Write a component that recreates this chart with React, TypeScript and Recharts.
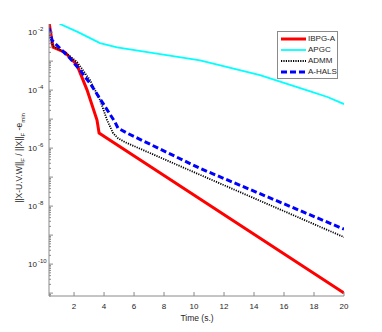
import { Line, LineChart, XAxis, YAxis } from 'recharts';

// time (s.) / relative error
const ibpgX = [0.33, 0.6, 1.4, 2.2, 2.87, 3.53, 3.67, 4.07, 20];
const ibpgY = [2.2e-2, 3.0e-3, 2.0e-3, 7.3e-4, 1.0e-4, 9.3e-6, 3.3e-6, 2.4e-6, 1.0e-11];

const apgcX = [0.33, 1.07, 2.27, 3.07, 3.73, 4.87, 10.4, 14.4, 17.7, 18.9, 20];
const apgcY = [5e-2, 1.9e-2, 1.0e-2, 6.2e-3, 4.2e-3, 3.0e-3, 1.07e-3, 3.3e-4, 9.3e-5, 5.8e-5, 3.3e-5];

const admmX = [0.33, 0.6, 1.4, 2.2, 3.07, 3.73, 4.2, 4.6, 4.93, 5.4, 10.4, 20];
const admmY = [8e-3, 3.3e-3, 2.0e-3, 9.3e-4, 2.2e-4, 4.6e-5, 9.3e-6, 3.3e-6, 2.2e-6, 1.6e-6, 1.2e-7, 8.5e-10];

const halsX = [0.33, 0.53, 1.73, 2.4, 3.07, 3.93, 4.73, 4.93, 5.53, 10.4, 20];
const halsY = [1.4e-2, 5.2e-3, 1.26e-3, 4.9e-4, 1.7e-4, 3.5e-5, 7.9e-6, 4.9e-6, 3.3e-6, 2.0e-7, 1.6e-9];

const xTicks = [2, 4, 6, 8, 10, 12, 14, 16, 18, 20];
const yMajorExp = [-2, -4, -6, -8, -10];

const X_DOMAIN: [number, number] = [0.33, 20];
const Y_DOMAIN: [number, number] = [Math.pow(10, -11.1), Math.pow(10, -1.72)];

const PL = 49;
const PR = 344;
const PT = 24;
const PB = 296;
const AX = '#8a8a8a';
const TXT = '#262626';
const FONT = '"Liberation Sans", Arial, sans-serif';

const zip = (xs: number[], ys: number[]) => xs.map((x, i) => ({ x, y: ys[i] }));

const series = [
  { name: 'IBPG-A', data: zip(ibpgX, ibpgY), color: '#ff0000', width: 3, dash: undefined },
  { name: 'APGC', data: zip(apgcX, apgcY), color: '#00ffff', width: 1.8, dash: undefined },
  { name: 'ADMM', data: zip(admmX, admmY), color: '#000000', width: 1.8, dash: '1.2 1.2' },
  { name: 'A-HALS', data: zip(halsX, halsY), color: '#0000ff', width: 3, dash: '6 3' },
];

// minor ticks like a log axis: k * 10^d
const yTicks: number[] = [];
for (let d = -12; d <= -1; d++) {
  for (let k = 1; k <= 9; k++) {
    const v = k * Math.pow(10, d);
    if (v >= Y_DOMAIN[0] && v <= Y_DOMAIN[1]) yTicks.push(v);
  }
}

const isDecade = (v: number) => {
  const e = Math.round(Math.log10(v));
  return Math.abs(v / Math.pow(10, e) - 1) < 1e-6;
};
const majorExp = (v: number) => {
  const e = Math.round(Math.log10(v));
  return isDecade(v) && yMajorExp.includes(e) ? e : null;
};

function LeftTick({ y, payload }: any) {
  const v = payload.value as number;
  const e = majorExp(v);
  const len = isDecade(v) ? 4 : 2;
  return (
    <g>
      <line x1={PL} x2={PL + len} y1={y} y2={y} stroke={AX} />
      {e !== null && (
        <text x={PL - 12} y={y + 3} textAnchor="end" fontSize={8} fill={TXT} fontFamily={FONT}>
          10
          <tspan x={PL - 11} dy={-4} fontSize={6} textAnchor="start">
            {e}
          </tspan>
        </text>
      )}
    </g>
  );
}

function RightTick({ y, payload }: any) {
  const len = isDecade(payload.value) ? 4 : 2;
  return <line x1={PR} x2={PR - len} y1={y} y2={y} stroke={AX} />;
}

function BottomTick({ x, payload }: any) {
  return (
    <g>
      <line x1={x} x2={x} y1={PB} y2={PB - 4} stroke={AX} />
      <text x={x} y={PB + 13} textAnchor="middle" fontSize={8} fill={TXT} fontFamily={FONT}>
        {payload.value}
      </text>
    </g>
  );
}

function TopTick({ x }: any) {
  return <line x1={x} x2={x} y1={PT} y2={PT + 4} stroke={AX} />;
}

function LegendBox() {
  return (
    <div
      style={{
        position: 'absolute',
        left: 277,
        top: 31,
        boxSizing: 'border-box',
        border: `1px solid ${AX}`,
        background: '#fff',
        width: 61,
        padding: '2px 1px 1px 2px',
        fontFamily: FONT,
        fontSize: 8,
        lineHeight: '8px',
        color: TXT,
        whiteSpace: 'nowrap',
      }}
    >
      {series.map((s) => (
        <div key={s.name} style={{ display: 'flex', alignItems: 'center', height: 10.8 }}>
          <svg width={27} height={6} style={{ marginRight: 1, flexShrink: 0 }}>
            <line x1={1} x2={26} y1={3} y2={3} stroke={s.color} strokeWidth={s.width} strokeDasharray={s.dash} />
          </svg>
          <span>{s.name}</span>
        </div>
      ))}
    </div>
  );
}

export default function App() {
  return (
    <div style={{ position: 'absolute', left: 0, top: 0, width: 382, height: 332, background: '#fff' }}>
      <LineChart width={382} height={332} margin={{ top: PT, right: 382 - PR, bottom: 0, left: 0 }}>
        <XAxis
          xAxisId="b"
          type="number"
          dataKey="x"
          domain={X_DOMAIN}
          allowDataOverflow
          ticks={xTicks}
          height={332 - PB}
          tick={<BottomTick />}
          tickLine={false}
          axisLine={{ stroke: AX }}
        />
        <XAxis
          xAxisId="t"
          orientation="top"
          type="number"
          dataKey="x"
          domain={X_DOMAIN}
          allowDataOverflow
          ticks={xTicks}
          height={0}
          tick={<TopTick />}
          tickLine={false}
          axisLine={{ stroke: AX }}
        />
        <YAxis
          yAxisId="l"
          scale="log"
          type="number"
          domain={Y_DOMAIN}
          allowDataOverflow
          ticks={yTicks}
          width={PL}
          tick={<LeftTick />}
          tickLine={false}
          axisLine={{ stroke: AX }}
          interval={0}
        />
        <YAxis
          yAxisId="r"
          orientation="right"
          scale="log"
          type="number"
          domain={Y_DOMAIN}
          allowDataOverflow
          ticks={yTicks}
          width={0}
          tick={<RightTick />}
          tickLine={false}
          axisLine={{ stroke: AX }}
          interval={0}
        />
        {series.map((s) => (
          <Line
            key={s.name}
            xAxisId="b"
            yAxisId="l"
            data={s.data}
            dataKey="y"
            name={s.name}
            type="linear"
            stroke={s.color}
            strokeWidth={s.width}
            strokeDasharray={s.dash}
            dot={false}
            isAnimationActive={false}
          />
        ))}
        <text x={197} y={321} textAnchor="middle" fontSize={8.5} fill={TXT} fontFamily={FONT}>
          Time (s.)
        </text>
        <text
          transform="translate(22,158) rotate(-90)"
          textAnchor="middle"
          fontSize={8.5}
          fill={TXT}
          fontFamily={FONT}
        >
          ||X-U.V.W||
          <tspan dy={3} fontSize={6}>F</tspan>
          <tspan dy={-3}> / ||X||</tspan>
          <tspan dy={3} fontSize={6}>F</tspan>
          <tspan dy={-3}> -e</tspan>
          <tspan dy={3} fontSize={6}>min</tspan>
        </text>
      </LineChart>
      <LegendBox />
    </div>
  );
}
